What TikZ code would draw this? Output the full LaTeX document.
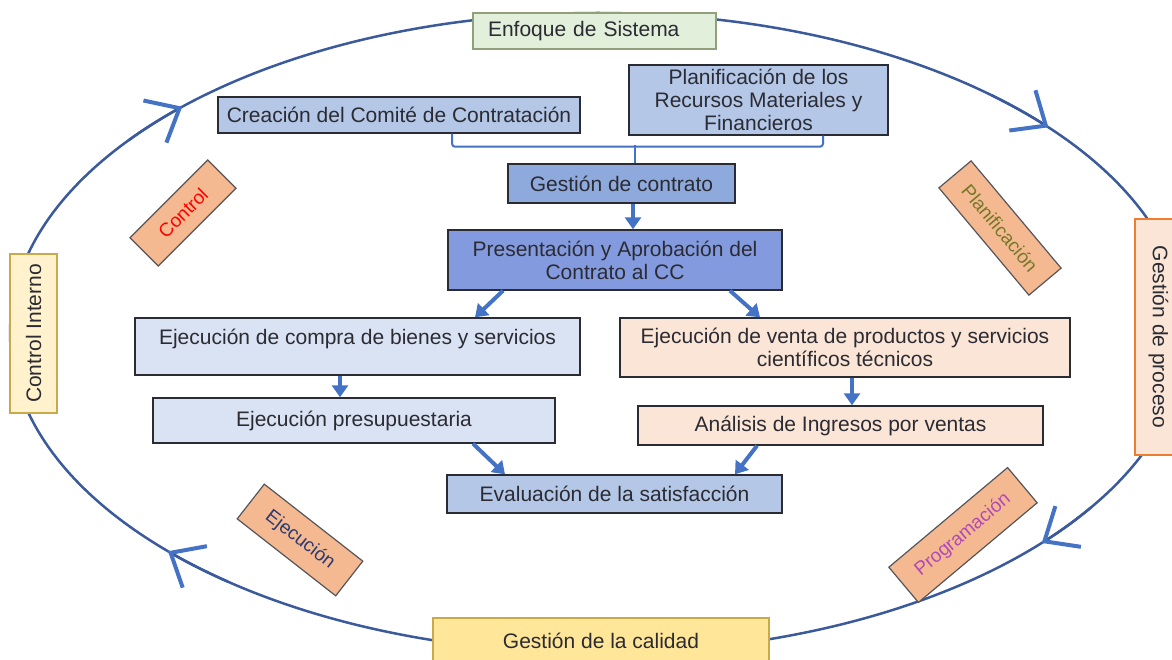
\documentclass[tikz,border=0pt]{standalone}
\usepackage{fontspec}
\setmainfont{Liberation Sans}
\usetikzlibrary{arrows.meta}

\definecolor{azul}{HTML}{4472C4}
\definecolor{azulanillo}{HTML}{3A5A9C}
\definecolor{borde}{HTML}{2B2B33}
\definecolor{azulmedio}{HTML}{B4C7E7}
\definecolor{azulfuerte}{HTML}{8EA9DB}
\definecolor{azulpalido}{HTML}{DAE3F3}
\definecolor{salmon}{HTML}{FBE5D6}
\definecolor{naranja}{HTML}{F4B990}
\definecolor{naranjaborde}{HTML}{ED7D31}
\definecolor{verdeclaro}{HTML}{E2EFDA}
\definecolor{verdeborde}{HTML}{8FA07A}
\definecolor{amarillo}{HTML}{FFF2CC}
\definecolor{oro}{HTML}{FFE699}
\definecolor{oroborde}{HTML}{C9A94A}
\definecolor{oliva}{HTML}{76782A}
\definecolor{morado}{HTML}{B04AB8}
\definecolor{marino}{HTML}{2C3A70}

\begin{document}
\begin{tikzpicture}[x=1pt, y=-1pt, font=\fontsize{21}{23}\selectfont, text=borde,
  caja/.style={draw=borde, line width=1.4pt, align=center, inner sep=2pt},
  etiqueta/.style={draw=borde!80, line width=1.2pt, fill=naranja, inner sep=2pt, font=\fontsize{19}{21}\selectfont},
  flecha/.style={azul, line width=4pt, -{Triangle[length=12pt,width=16pt]}},
  llave/.style={azul, line width=2pt, rounded corners=3pt},
  vuelta/.style={azulanillo, line width=2.5pt},
  punta/.style={azulanillo, line width=2.5pt, -{Straight Barb[length=28pt,width=48pt,line width=4pt,color=azul]}}]
  \useasboundingbox (0,0) rectangle (1172,660);

  % Ciclo exterior
  \coordinate (C) at (598,333);
  \draw[vuelta] (C) ellipse [x radius=588, y radius=320];

  % Puntas de flecha del ciclo (sentido horario)
  \foreach \a in {-143,-48,33,129}
    \draw[punta] (C) ++(\a:588 and 320) arc[start angle=\a, delta angle=8, x radius=588, y radius=320];

  % Cajas sobre el ciclo
  \node[caja, fill=verdeclaro, draw=verdeborde, text width=213pt, align=left, inner xsep=15pt, minimum height=36pt] (enfoque) at (594.5,31) {Enfoque de Sistema};
  \node[caja, fill=amarillo, draw=oroborde, rotate=90, minimum width=159pt, minimum height=47pt] (interno) at (33.5,333.5) {Control Interno};
  \node[caja, fill=salmon, draw=naranjaborde, rotate=-90, minimum width=236pt, minimum height=47pt] (proceso) at (1158.5,337) {Gestión de proceso};
  \node[caja, fill=oro, draw=oroborde, minimum width=336pt, minimum height=46pt] (calidad) at (601,641) {Gestión de la calidad};

  % Etiquetas inclinadas
  \node[etiqueta, rotate=45, text=red, minimum width=110pt, minimum height=40pt] (etqcontrol) at (183,213) {Control};
  \node[etiqueta, rotate=-50, text=oliva, minimum width=140pt, minimum height=42pt] (etqplanif) at (1000,228) {Planificación};
  \node[etiqueta, rotate=-38, text=marino, minimum width=125pt, minimum height=44pt] (etqejec) at (300,540) {Ejecución};
  \node[etiqueta, rotate=40, text=morado, minimum width=155pt, minimum height=46pt] (etqprog) at (963,535) {Programación};

  % Cajas centrales
  \node[caja, fill=azulmedio, minimum width=362pt, minimum height=36pt] (comite) at (399,115) {Creación del Comité de Contratación};
  \node[caja, fill=azulmedio, minimum width=259pt, minimum height=70pt] (recursos) at (758.5,100) {Planificación de los\\Recursos Materiales y\\Financieros};
  \node[caja, fill=azulfuerte, minimum width=227pt, minimum height=39pt] (gestion) at (621.5,183.5) {Gestión de contrato};
  \node[caja, fill=azulfuerte!92!blue, minimum width=334pt, minimum height=60pt] (aprobacion) at (615,260) {Presentación y Aprobación del\\Contrato al CC};
  \node[caja, fill=azulpalido, minimum width=445pt, minimum height=57pt, text depth=20pt] (compra) at (357.5,346.5) {Ejecución de compra de bienes y servicios};
  \node[caja, fill=salmon, minimum width=450pt, minimum height=59pt] (venta) at (845,347.5) {Ejecución de venta de productos y servicios\\científicos técnicos};
  \node[caja, fill=azulpalido, minimum width=402pt, minimum height=45pt] (presupuesto) at (354,420.5) {Ejecución presupuestaria};
  \node[caja, fill=salmon, minimum width=405pt, minimum height=39pt] (ingresos) at (840.5,425.5) {Análisis de Ingresos por ventas};
  \node[caja, fill=azulmedio, minimum width=335pt, minimum height=38pt] (satisfaccion) at (614.5,494) {Evaluación de la satisfacción};

  % Llave que une las dos primeras cajas
  \draw[llave] ([xshift=53pt]comite.south) -- ++(0,13) -| ([xshift=64.5pt]recursos.south);
  \draw[llave] ([xshift=13.5pt]gestion.north) -- ++(0,-18);

  % Flechas del flujo
  \draw[flecha] ([xshift=11.5pt]gestion.south) -- ([xshift=18pt]aprobacion.north);
  \draw[flecha] ([xshift=-112pt]aprobacion.south) -- ([xshift=117.5pt]compra.north);
  \draw[flecha] ([xshift=115pt]aprobacion.south) -- ([xshift=-85pt]venta.north);
  \draw[flecha] ([xshift=-17.5pt]compra.south) -- ([xshift=-14pt]presupuesto.north);
  \draw[flecha] ([xshift=7pt]venta.south) -- ([xshift=11.5pt]ingresos.north);
  \draw[flecha] ([xshift=119pt]presupuesto.south) -- ([xshift=-109.5pt]satisfaccion.north);
  \draw[flecha] ([xshift=-83.5pt]ingresos.south) -- ([xshift=120.5pt]satisfaccion.north);
\end{tikzpicture}
\end{document}
